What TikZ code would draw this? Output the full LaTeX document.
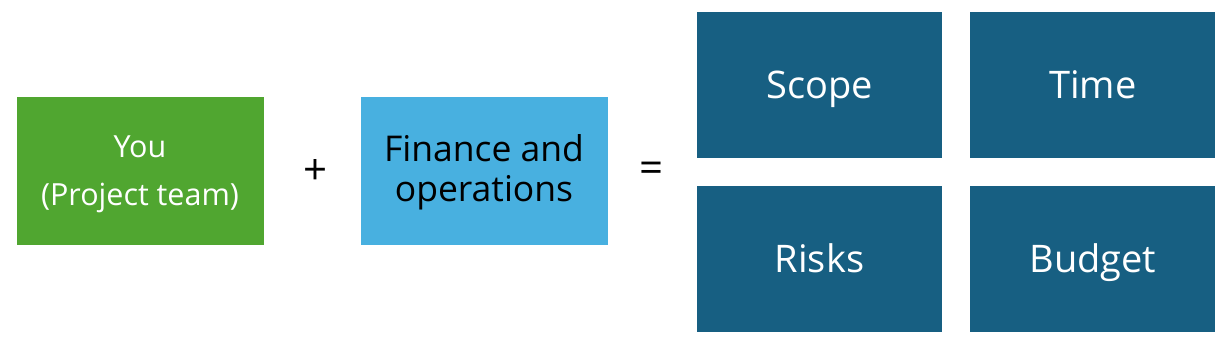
\documentclass[tikz,border=0pt]{standalone}
\usepackage{fontspec}
\setmainfont{Open Sans}
\usetikzlibrary{positioning}
\definecolor{TeamGreen}{HTML}{50A630}
\definecolor{OpsBlue}{HTML}{48B0E0}
\definecolor{GoalBlue}{HTML}{175F82}
\tikzset{
    % Flat coloured boxes
    block/.style={
        rectangle,
        draw=none,
        minimum width=247pt,
        minimum height=147pt,
        align=center,
        inner sep=0pt
    },
    block team/.style={
        block,
        fill=TeamGreen
    },
    block ops/.style={
        block,
        fill=OpsBlue
    },
    block goal/.style={
        block,
        minimum width=245pt,
        minimum height=146pt,
        fill=GoalBlue,
        text=white,
        text height=27pt,
        text depth=0pt,
        font=\fontsize{38}{42}\selectfont
    },
    operator/.style={
        font=\fontsize{42}{44}\selectfont,
        text=black,
        inner sep=0pt
    }
}
\begin{document}
\begin{tikzpicture}[x=1pt, y=-1pt, node distance=28pt]
        \useasboundingbox (0,0) rectangle (1223,339);
        % Left side of the sum
        \node[block team] (team) at (140,171) {};
        \node[block ops] (ops) at (484,171) {};
        \node[text=white, font=\fontsize{30.5}{48}\selectfont, align=center] (teamtext) at (team.center) [yshift=-3pt] {You\\(Project team)};
        \node[font=\fontsize{35.5}{40}\selectfont, align=center] (opstext) at (ops.center) [yshift=-1pt] {Finance and\\operations};
        \node[operator] (plus) at (316,172) {+};
        \node[operator] (equals) at (651,172) {=};

        % Result grid
        \node[block goal] (scope) at (819.5,85) {Scope};
        \node[block goal, right=of scope] (time) {Time};
        \node[block goal, below=of scope] (risks) {Risks};
        \node[block goal, right=of risks] (budget) {Budget};
    \end{tikzpicture}
\end{document}
